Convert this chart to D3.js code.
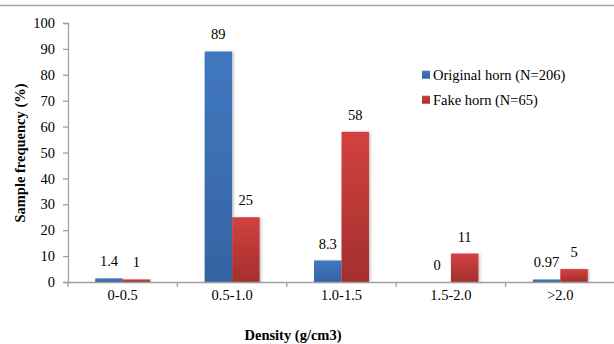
<!DOCTYPE html>
<html>
<head>
<meta charset="utf-8">
<script src="https://cdn.jsdelivr.net/npm/d3@7"></script>
<style>
  html, body { margin: 0; padding: 0; background: #fff; }
  svg { display: block; }
  text { font-family: "Liberation Serif", "Times New Roman", serif; fill: #000; }
</style>
</head>
<body>
<svg id="chart" width="614" height="344"></svg>
<script>
// Density classes and sample frequencies (%)
const categories = ["0-0.5", "0.5-1.0", "1.0-1.5", "1.5-2.0", ">2.0"];
const originalValues = [1.4, 89, 8.3, 0, 0.97];
const fakeValues = [1, 25, 58, 11, 5];
const originalLabels = ["1.4", "89", "8.3", "0", "0.97"];
const fakeLabels = ["1", "25", "58", "11", "5"];
const seriesNames = ["Original horn (N=206)", "Fake horn (N=65)"];
const yTicks = [0, 10, 20, 30, 40, 50, 60, 70, 80, 90, 100];

const svg = d3.select("#chart");
const plotLeft = 68, plotRight = 615, plotTop = 23, plotBottom = 282;
const fs = 14.5;

const defs = svg.append("defs");
function gradient(id, c1, c2) {
  const g = defs.append("linearGradient").attr("id", id)
    .attr("x1", 0).attr("y1", 0).attr("x2", 0).attr("y2", 1);
  g.append("stop").attr("offset", "0%").attr("stop-color", c1);
  g.append("stop").attr("offset", "100%").attr("stop-color", c2);
}
gradient("gBlue", "#4178bf", "#3563a3");
gradient("gRed", "#d24140", "#a32f2e");
const shadow = defs.append("filter").attr("id", "shadow")
  .attr("x", "-20%").attr("y", "-5%").attr("width", "140%").attr("height", "115%");
shadow.append("feDropShadow").attr("dx", 1.5).attr("dy", 0.5)
  .attr("stdDeviation", 1.2).attr("flood-color", "#000").attr("flood-opacity", 0.25);

// Top frame line
svg.append("line").attr("x1", 0).attr("x2", 614).attr("y1", 5.5).attr("y2", 5.5)
  .attr("stroke", "#a6a6a6").attr("stroke-width", 1.5);

const x = d3.scaleBand().domain(categories).range([plotLeft, plotRight]).paddingInner(0).paddingOuter(0);
const x1 = d3.scaleBand().domain([0, 1]).range([0, x.bandwidth()]).paddingOuter(0.99).paddingInner(0);
const y = d3.scaleLinear().domain([0, 100]).range([plotBottom, plotTop]);

// Y axis
const yAxis = svg.append("g").attr("transform", `translate(${plotLeft},0)`)
  .call(d3.axisLeft(y).tickValues(yTicks).tickSize(5).tickPadding(8));
yAxis.select(".domain").attr("stroke", "#a0a0a0").attr("stroke-width", 1.3);
yAxis.selectAll(".tick line").attr("stroke", "#a0a0a0").attr("stroke-width", 1.3);
yAxis.selectAll(".tick text").attr("font-size", fs).attr("fill", "#000");

// Bars
const series = [
  { values: originalValues, labels: originalLabels, fill: "url(#gBlue)" },
  { values: fakeValues, labels: fakeLabels, fill: "url(#gRed)" }
];
series.forEach((s, si) => {
  const g = svg.append("g");
  g.selectAll("rect").data(categories).join("rect")
    .attr("x", (d) => x(d) + x1(si))
    .attr("width", x1.bandwidth())
    .attr("y", (d, i) => y(s.values[i]))
    .attr("height", (d, i) => plotBottom - y(s.values[i]))
    .attr("fill", s.fill)
    .attr("filter", "url(#shadow)");
  g.selectAll("text").data(categories).join("text")
    .attr("x", (d) => x(d) + x1(si) + x1.bandwidth() / 2)
    .attr("y", (d, i) => y(s.values[i]) - 12)
    .attr("text-anchor", "middle")
    .attr("font-size", fs)
    .text((d, i) => s.labels[i]);
});

// X axis
const xAxis = svg.append("g").attr("transform", `translate(0,${plotBottom})`)
  .call(d3.axisBottom(x).tickSize(0).tickPadding(8));
xAxis.select(".domain").attr("stroke", "#a0a0a0").attr("stroke-width", 1.3);
xAxis.selectAll(".tick text").attr("font-size", fs).attr("fill", "#000");
svg.append("g").selectAll("line").data(categories).join("line")
  .attr("x1", (d) => x(d)).attr("x2", (d) => x(d))
  .attr("y1", plotBottom).attr("y2", plotBottom + 5)
  .attr("stroke", "#a0a0a0").attr("stroke-width", 1.3);

// Axis titles
svg.append("text")
  .attr("transform", "translate(25,153) rotate(-90)")
  .attr("text-anchor", "middle")
  .attr("font-size", fs).attr("font-weight", "bold")
  .text("Sample frequency (%)");
svg.append("text")
  .attr("x", 293).attr("y", 340)
  .attr("text-anchor", "middle")
  .attr("font-size", fs).attr("font-weight", "bold")
  .text("Density (g/cm3)");

// Legend
const legend = svg.append("g");
["url(#gBlue)", "url(#gRed)"].forEach((fill, i) => {
  const ly = 74.7 + i * 25;
  legend.append("rect").attr("x", 422).attr("y", ly - 4).attr("width", 8).attr("height", 8).attr("fill", fill);
  legend.append("text").attr("x", 433).attr("y", ly + 4.8)
    .attr("font-size", fs).text(seriesNames[i]);
});
</script>
</body>
</html>
